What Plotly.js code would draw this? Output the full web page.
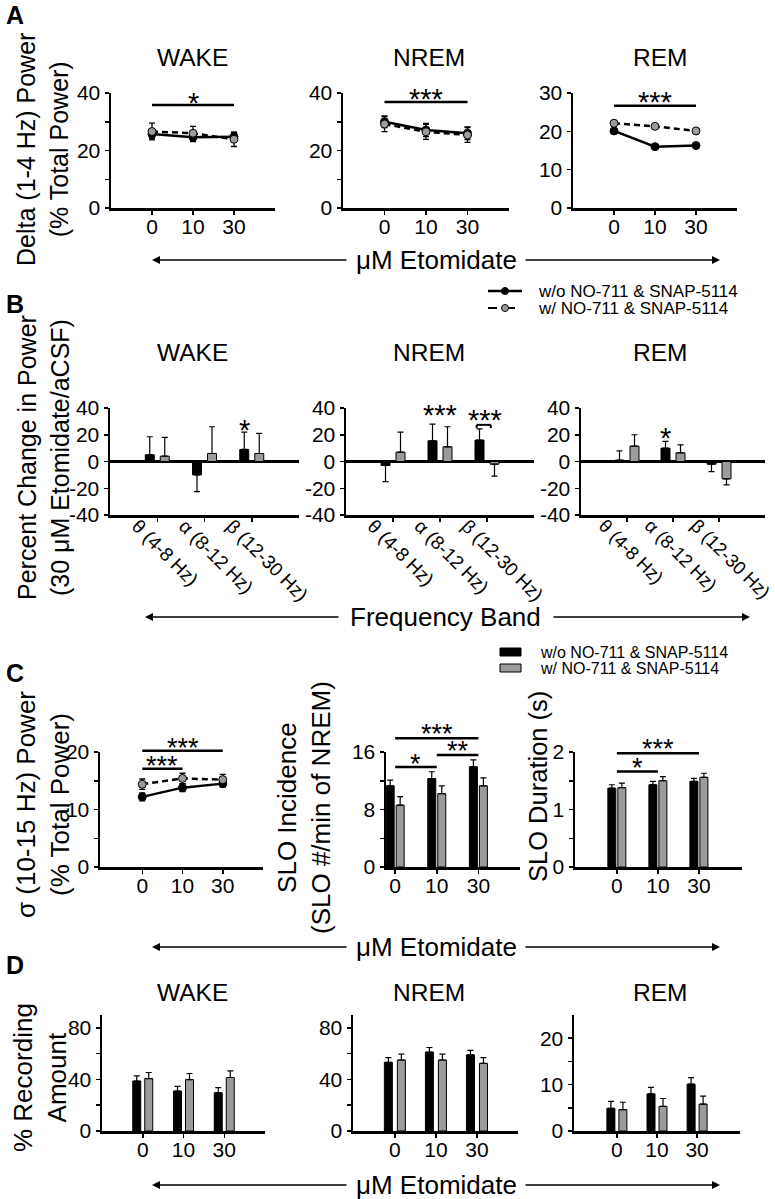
<!DOCTYPE html>
<html><head><meta charset="utf-8">
<script src="https://cdn.plot.ly/plotly-3.0.1.min.js"></script>
<style>html,body{margin:0;padding:0;background:#fff;} #chart{width:775px;height:1199px;}</style>
</head><body><div id="chart"></div>
<script>
// ---------------- DATA ----------------
const doses = ['0', '10', '30'];
const bands = ['θ (4-8 Hz)', 'α (8-12 Hz)', 'β (12-30 Hz)'];
const states = ['WAKE', 'NREM', 'REM'];

// A: Delta (1-4 Hz) power, % total power
const deltaWakeWo = [25.7, 24.6, 24.8], deltaWakeWoErr = [1.6, 1.5, 1.5];
const deltaWakeW  = [26.6, 26.0, 23.9], deltaWakeWErr  = [2.9, 2.4, 2.5];
const deltaNremWo = [30.0, 27.1, 26.0], deltaNremWoErr = [2.0, 2.3, 2.2];
const deltaNremW  = [29.2, 26.5, 25.4], deltaNremWErr  = [2.6, 2.6, 2.6];
const deltaRemWo  = [20.1, 16.0, 16.3], deltaRemWoErr  = [0.5, 0.4, 0.4];
const deltaRemW   = [22.1, 21.3, 20.1], deltaRemWErr   = [0.5, 0.4, 0.4];

// B: percent change in power (30 uM etomidate / aCSF)
const pcWakeWo = [5, -10, 9],    pcWakeWoErr = [13.5, 12.5, 13];
const pcWakeW  = [4, 6, 6],      pcWakeWErr  = [14, 20, 15];
const pcNremWo = [-3, 15.5, 16], pcNremWoErr = [12, 12.5, 8.4];
const pcNremW  = [7, 11, -2],    pcNremWErr  = [15, 15, 9];
const pcRemWo  = [1, 10, -2],    pcRemWoErr  = [7, 5, 5.5];
const pcRemW   = [11.5, 6.5, -13], pcRemWErr = [8.5, 6, 4.5];

// C: sigma power, SLO incidence, SLO duration
const sigmaWo = [12.2, 13.8, 14.5], sigmaWoErr = [0.7, 0.7, 0.6];
const sigmaW  = [14.4, 15.4, 15.2], sigmaWErr  = [0.9, 0.9, 0.9];
const sloIncWo = [11.3, 12.3, 13.95], sloIncWoErr = [0.8, 0.95, 0.95];
const sloIncW  = [8.6, 10.2, 11.3],   sloIncWErr  = [1.2, 1.1, 1.1];
const sloDurWo = [1.37, 1.43, 1.49], sloDurWoErr = [0.06, 0.06, 0.05];
const sloDurW  = [1.38, 1.50, 1.56], sloDurWErr  = [0.08, 0.07, 0.07];

// D: % recording amount
const amtWakeWo = [38.8, 31.0, 29.7], amtWakeWoErr = [4.0, 3.6, 3.9];
const amtWakeW  = [40.7, 39.9, 41.5], amtWakeWErr  = [4.7, 4.7, 5.2];
const amtNremWo = [53.3, 61.2, 59.1], amtNremWoErr = [3.7, 3.6, 3.4];
const amtNremW  = [55.1, 55.1, 52.5], amtNremWErr  = [4.5, 4.5, 4.5];
const amtRemWo  = [4.9, 8.0, 10.1],   amtRemWoErr  = [1.5, 1.4, 1.4];
const amtRemW   = [4.6, 5.3, 5.8],    amtRemWErr   = [1.6, 1.7, 1.7];

const legendWo = 'w/o NO-711 & SNAP-5114';
const legendW  = 'w/ NO-711 & SNAP-5114';

// ---------------- LAYOUT HELPERS ----------------
const W = 775, H = 1199;
const FONT = 'Liberation Sans, Arial, Helvetica, sans-serif';
const GRAY = '#9b9b9b';
const px = v => v / W;
const py = v => 1 - v / H;
const traces = [];
const layout = {
  width: W, height: H, margin: {l: 0, r: 0, t: 0, b: 0},
  paper_bgcolor: 'white', plot_bgcolor: 'white', showlegend: false,
  barmode: 'overlay', font: {family: FONT, color: 'black', size: 21},
  annotations: [], shapes: []
};
const subplots = {};
const axKey = (n, c) => c + 'axis' + (n === 1 ? '' : n);
const axId = (n, c) => c + (n === 1 ? '' : n);

function makeSubplot(n, xl, xr, yt, yb, cats, xrange, yrange, tickvals, ticktext, extraX, extraY) {
  subplots[n] = {xl, xr, yt, yb, xrange, yrange};
  layout[axKey(n, 'x')] = Object.assign({
    domain: [xl / W, xr / W], anchor: axId(n, 'y'), type: 'category',
    categoryorder: 'array', categoryarray: cats, range: xrange,
    showline: true, linecolor: 'black', linewidth: 2.5,
    ticks: 'outside', ticklen: 4, tickwidth: 1.5, tickcolor: 'black',
    ticklabelstandoff: -6,
    showgrid: false, zeroline: false, tickfont: {size: 21, family: FONT}, fixedrange: true
  }, extraX || {});
  layout[axKey(n, 'y')] = Object.assign({
    domain: [1 - yb / H, 1 - yt / H], anchor: axId(n, 'x'), range: yrange,
    tickmode: 'array', tickvals: tickvals, ticktext: ticktext,
    showline: true, linecolor: 'black', linewidth: 2.5,
    ticks: 'outside', ticklen: 4, tickwidth: 1.5, tickcolor: 'black',
    showgrid: false, zeroline: false, tickfont: {size: 21, family: FONT}, fixedrange: true
  }, extraY || {});
}
function yPaper(n, v) {
  const s = subplots[n];
  return (1 - s.yb / H) + (v - s.yrange[0]) / (s.yrange[1] - s.yrange[0]) * ((s.yb - s.yt) / H);
}

function linePair(n, wo, woErr, w, wErr) {
  const common = {type: 'scatter', x: doses, xaxis: axId(n, 'x'), yaxis: axId(n, 'y'),
    mode: 'lines+markers', showlegend: false, hoverinfo: 'skip', cliponaxis: false};
  traces.push(Object.assign({}, common, {
    name: legendWo, y: wo,
    line: {color: 'black', width: 2.5},
    marker: {color: 'black', size: 8, line: {color: 'black', width: 1}},
    error_y: {type: 'data', array: woErr, color: 'black', thickness: 1.3, width: 3}
  }));
  traces.push(Object.assign({}, common, {
    name: legendW, y: w,
    line: {color: 'black', width: 2.5, dash: '6px,4px'},
    marker: {color: GRAY, size: 8, line: {color: 'black', width: 1}},
    error_y: {type: 'data', array: wErr, color: 'black', thickness: 1.3, width: 3}
  }));
}

function barPair(n, cats, wo, woErr, w, wErr, halfSepPx, widthPx) {
  const s = subplots[n];
  const spacing = (s.xr - s.xl) / (s.xrange[1] - s.xrange[0]);
  const wU = widthPx / spacing;
  const mk = (name, vals, errs, color, offPx) => ({
    type: 'bar', name: name, x: cats, y: vals, xaxis: axId(n, 'x'), yaxis: axId(n, 'y'),
    width: wU, offset: (offPx - widthPx / 2) / spacing,
    marker: {color: color, line: {color: 'black', width: 1}},
    error_y: {type: 'data', symmetric: false,
      array: vals.map((v, i) => v >= 0 ? errs[i] : 0),
      arrayminus: vals.map((v, i) => v < 0 ? errs[i] : 0),
      color: 'black', thickness: 1.2, width: 3},
    showlegend: false, hoverinfo: 'skip'
  });
  traces.push(mk(legendWo, wo, woErr, 'black', -halfSepPx));
  traces.push(mk(legendW, w, wErr, GRAY, halfSepPx));
}

function text(x, y, t, size, opts) {
  layout.annotations.push(Object.assign({
    xref: 'paper', yref: 'paper', x: px(x), y: py(y), text: t, showarrow: false,
    font: {family: FONT, size: size, color: 'black'}, xanchor: 'center', yanchor: 'middle'
  }, opts || {}));
}
function vLabel(x, y, t, size) {
  text(x, y, t, size, {textangle: -90});
}
function arrowAxis(y, label, leftTip, leftEnd, rightStart, rightTip, cx, size) {
  const mkArrow = (tip, tail) => layout.annotations.push({
    xref: 'paper', yref: 'paper', axref: 'paper', ayref: 'paper',
    x: px(tip), y: py(y), ax: px(tail), ay: py(y), text: '', showarrow: true,
    arrowhead: 2, arrowsize: 1, arrowwidth: 1.6, arrowcolor: 'black'
  });
  mkArrow(leftTip, leftEnd);
  mkArrow(rightTip, rightStart);
  text(cx, y, label, size);
}
function starNote(n, xc, yv, stars, size) {
  layout.annotations.push({xref: axId(n, 'x'), yref: 'paper', x: xc, y: yPaper(n, yv),
    xanchor: 'center', yanchor: 'middle',
    text: stars, showarrow: false, yshift: -7, font: {family: FONT, size: size || 29, color: 'black'}});
}
function sigBar(n, c0, c1, yv, stars, starY, size) {
  layout.shapes.push({type: 'line', xref: axId(n, 'x'), yref: 'paper',
    x0: c0, x1: c1, y0: yPaper(n, yv), y1: yPaper(n, yv), line: {color: 'black', width: 2.5}});
  starNote(n, (c0 + c1) / 2, starY, stars, size);
}

// ---------------- PANEL A ----------------
const aTicks40 = [0, 10, 20, 30, 40], aText40 = ['0', '', '20', '', '40'];
makeSubplot(1, 111, 275, 93, 208, doses, [-1, 3], [0, 40], aTicks40, aText40);
makeSubplot(2, 343, 509, 93, 208, doses, [-1, 3], [0, 40], aTicks40, aText40);
makeSubplot(3, 573, 737, 93, 208, doses, [-1, 3], [0, 30], [0, 10, 20, 30], ['0', '10', '20', '30']);
linePair(1, deltaWakeWo, deltaWakeWoErr, deltaWakeW, deltaWakeWErr);
linePair(2, deltaNremWo, deltaNremWoErr, deltaNremW, deltaNremWErr);
linePair(3, deltaRemWo, deltaRemWoErr, deltaRemW, deltaRemWErr);
sigBar(1, 0, 2, 35.8, '*', 39.0);
sigBar(2, 0, 2, 36.9, '***', 40.5);
sigBar(3, 0, 2, 26.7, '***', 29.6);

// ---------------- PANEL B ----------------
const bTicks = [-40, -20, 0, 20, 40], bText = ['-40', '-20', '0', '20', '40'];
const bX = {tickangle: 45, tickfont: {size: 19, family: FONT}, ticklabelshift: -20, ticklabelstandoff: -14};
const bXr = Object.assign({}, bX, {ticklabelshift: -23, tickfont: {size: 18.5, family: FONT}});
const bY = {zeroline: true, zerolinecolor: 'black', zerolinewidth: 2.5};
makeSubplot(4, 110, 299, 408, 515, bands, [-1, 3], [-40, 40], bTicks, bText, bX, bY);
makeSubplot(5, 346, 534, 408, 515, bands, [-1, 3], [-40, 40], bTicks, bText, bX, bY);
makeSubplot(6, 581, 765, 408, 515, bands, [-1, 3], [-40, 40], bTicks, bText, bXr, bY);
barPair(4, bands, pcWakeWo, pcWakeWoErr, pcWakeW, pcWakeWErr, 7.5, 9);
barPair(5, bands, pcNremWo, pcNremWoErr, pcNremW, pcNremWErr, 7.5, 9);
barPair(6, bands, pcRemWo, pcRemWoErr, pcRemW, pcRemWErr, 7.5, 9);
starNote(4, 2 - 0.16, 29, '*');
starNote(5, 1, 40, '***');
starNote(5, 2 - 0.05, 36, '***');
starNote(6, 1 - 0.16, 23, '*');
// bracket over NREM beta pair
(function () {
  const yTop = yPaper(5, 27.4), yBot = yPaper(5, 25.0);
  const xa = axId(5, 'x'), l = 2 - 0.22, r = 2 + 0.08;
  const ln = {color: 'black', width: 2};
  layout.shapes.push({type: 'line', xref: xa, yref: 'paper', x0: l, x1: r, y0: yTop, y1: yTop, line: ln});
  layout.shapes.push({type: 'line', xref: xa, yref: 'paper', x0: l, x1: l, y0: yTop, y1: yBot, line: ln});
  layout.shapes.push({type: 'line', xref: xa, yref: 'paper', x0: r, x1: r, y0: yTop, y1: yBot, line: ln});
})();

// ---------------- PANEL C ----------------
makeSubplot(7, 100, 263, 752, 867, doses, [-1.05, 3], [0, 20], [0, 5, 10, 15, 20], ['0', '', '10', '', '20']);
makeSubplot(8, 386, 520, 752, 867, doses, [-0.22, 3], [0, 16], [0, 4, 8, 12, 16], ['0', '', '8', '', '16']);
makeSubplot(9, 575, 742, 752, 867, doses, [-1.02, 3.05], [0, 2], [0, 0.5, 1, 1.5, 2], ['0', '', '1', '', '2']);
linePair(7, sigmaWo, sigmaWoErr, sigmaW, sigmaWErr);
barPair(8, doses, sloIncWo, sloIncWoErr, sloIncW, sloIncWErr, 5, 8);
barPair(9, doses, sloDurWo, sloDurWoErr, sloDurW, sloDurWErr, 5, 8);
sigBar(7, 0, 2, 20.2, '***', 22.0, 27);
sigBar(7, 0, 1, 17.1, '***', 18.8, 27);
sigBar(8, 0, 2, 17.9, '***', 19.5, 27);
sigBar(8, 0, 1, 13.9, '*', 15.3, 27);
sigBar(8, 1, 2, 15.6, '**', 17.1, 27);
sigBar(9, 0, 2, 1.98, '***', 2.17, 27);
sigBar(9, 0, 1, 1.66, '*', 1.84, 27);

// ---------------- PANEL D ----------------
const dTicks = [0, 20, 40, 60, 80], dText = ['0', '', '40', '', '80'];
makeSubplot(10, 102, 265, 1015, 1131, doses, [-1, 3], [0, 90], dTicks, dText);
makeSubplot(11, 353, 518, 1015, 1131, doses, [-1.02, 3], [0, 90], dTicks, dText);
makeSubplot(12, 574, 740, 1015, 1131, doses, [-1.07, 3.07], [0, 25], [0, 5, 10, 15, 20], ['0', '', '10', '', '20']);
barPair(10, doses, amtWakeWo, amtWakeWoErr, amtWakeW, amtWakeWErr, 6, 8);
barPair(11, doses, amtNremWo, amtNremWoErr, amtNremW, amtNremWErr, 6.5, 8);
barPair(12, doses, amtRemWo, amtRemWoErr, amtRemW, amtRemWErr, 6, 8);

// ---------------- TEXT ----------------
const titleX = [192, 429, 660];
states.forEach((s, i) => { text(titleX[i], 58, s, 24.5); text(titleX[i], 352, s, 24.5); text(titleX[i], 992, s, 24.5); });
[['A', 15], ['B', 304], ['C', 673], ['D', 965]].forEach(([t, y]) => text(15, y, '<b>' + t + '</b>', 25));

vLabel(42, 150, 'Delta (1-4 Hz) Power<br>(% Total Power)', 25);
vLabel(43, 458, 'Percent Change in Power<br>(30 μM Etomidate/aCSF)', 25);
vLabel(43, 805, 'σ (10-15 Hz) Power<br>(% Total Power)', 26);
vLabel(304, 808, 'SLO Incidence<br>(SLO #/min of NREM)', 26);
vLabel(538, 787, 'SLO Duration (s)', 25.5);
vLabel(40, 1078, '% Recording<br>Amount', 26);

arrowAxis(260, 'μM Etomidate', 152, 348, 524, 720, 436, 26);
arrowAxis(617, 'Frequency Band', 145, 340, 552, 750, 446, 26);
arrowAxis(947, 'μM Etomidate', 152, 348, 524, 720, 436, 26);
arrowAxis(1185, 'μM Etomidate', 152, 348, 524, 720, 436, 26);

// legend for line plots (panel A)
layout.shapes.push({type: 'line', xref: 'paper', yref: 'paper', x0: px(488), x1: px(522), y0: py(291), y1: py(291), line: {color: 'black', width: 2.5}});
layout.shapes.push({type: 'circle', xref: 'paper', yref: 'paper', x0: px(501.5), x1: px(508.5), y0: py(294.5), y1: py(287.5), fillcolor: 'black', line: {color: 'black', width: 1}});
layout.shapes.push({type: 'line', xref: 'paper', yref: 'paper', x0: px(488), x1: px(522), y0: py(308), y1: py(308), line: {color: 'black', width: 2, dash: 'dash'}});
layout.shapes.push({type: 'circle', xref: 'paper', yref: 'paper', x0: px(501.5), x1: px(508.5), y0: py(311.5), y1: py(304.5), fillcolor: GRAY, line: {color: 'black', width: 1}});
text(536, 291, legendWo, 17, {xanchor: 'left'});
text(536, 308, legendW, 17, {xanchor: 'left'});
// legend for bar plots (panel C)
layout.shapes.push({type: 'rect', xref: 'paper', yref: 'paper', x0: px(500), x1: px(521), y0: py(656), y1: py(648), fillcolor: 'black', line: {color: 'black', width: 1}});
layout.shapes.push({type: 'rect', xref: 'paper', yref: 'paper', x0: px(500), x1: px(521), y0: py(672), y1: py(664), fillcolor: GRAY, line: {color: 'black', width: 1}});
text(538, 652, legendWo, 16, {xanchor: 'left'});
text(538, 668, legendW, 16, {xanchor: 'left'});

Plotly.newPlot('chart', traces, layout, {staticPlot: true, displayModeBar: false});
</script>
</body></html>
